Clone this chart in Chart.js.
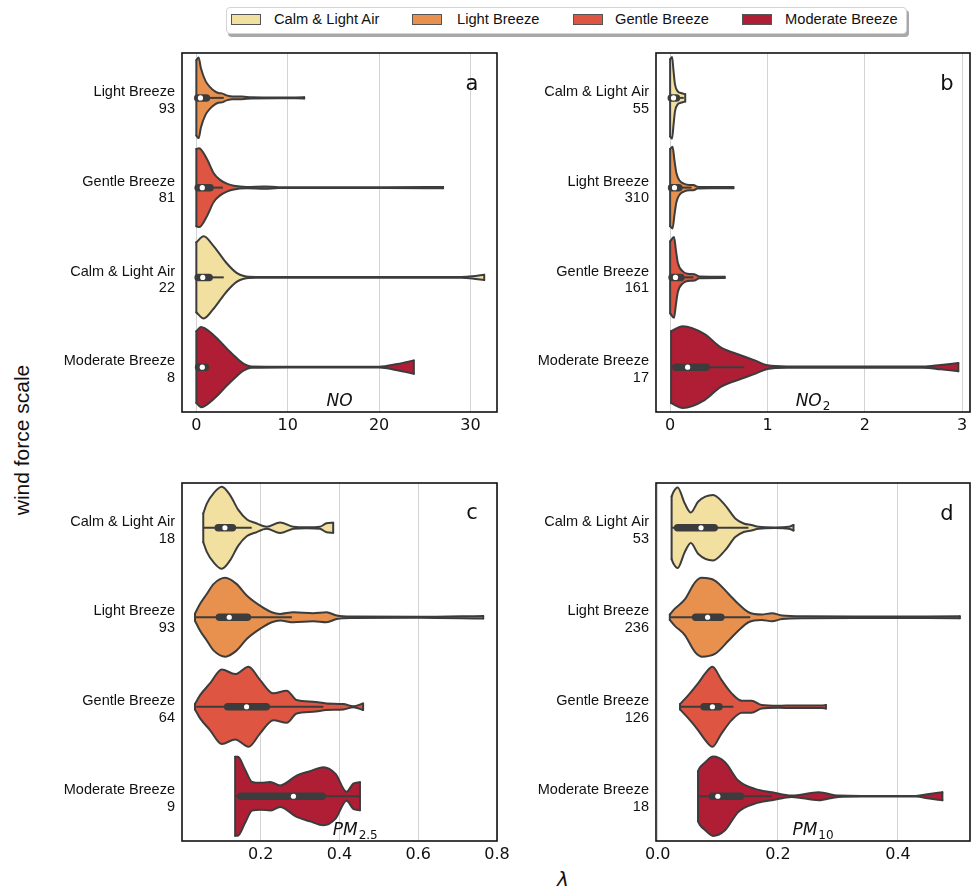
<!DOCTYPE html>
<html><head><meta charset="utf-8">
<script src="https://cdn.jsdelivr.net/npm/chart.js@4/dist/chart.umd.min.js"></script>
<style>
html,body{margin:0;padding:0;background:#fff;overflow:hidden;width:971px;height:891px}
#wrap{position:relative;width:971px;height:891px;overflow:hidden}
canvas{position:absolute}
#legend{position:absolute;left:226px;top:7px;width:679px;height:25px;border:1px solid #d4d4d4;border-radius:4px;box-shadow:2px 3px 0 #a8a8a8;background:#fff;font-family:"Liberation Sans",Arial,sans-serif;font-size:14.7px;color:#111}
#legend .p{position:absolute;top:6px;width:30px;height:11px;box-sizing:border-box;border:1px solid #555}
#legend .t{position:absolute;top:3px;line-height:17px;white-space:nowrap}
#ylab{position:absolute;left:22px;top:440px;transform:translate(-50%,-50%) rotate(-90deg);font-family:"Liberation Sans",Arial,sans-serif;font-size:21px;color:#111;white-space:nowrap}
#xlab{position:absolute;left:563px;top:879px;transform:translate(-50%,-50%);font-family:"DejaVu Sans",sans-serif;font-style:italic;font-size:20px;color:#111}
</style></head><body>
<div id="wrap">
<div id="legend"></div>
<div id="ylab">wind force scale</div>
<div id="xlab">λ</div>
<canvas id="ca" width="512" height="400" style="left:0px;top:43px"></canvas>
<canvas id="cb" width="520" height="400" style="left:474px;top:43px"></canvas>
<canvas id="cc" width="512" height="399" style="left:0px;top:473px"></canvas>
<canvas id="cd" width="520" height="399" style="left:474px;top:473px"></canvas>
</div>
<script>
// ---------- shared categories ----------
const classNames = ['Calm & Light Air', 'Light Breeze', 'Gentle Breeze', 'Moderate Breeze'];
const classColors = ['#f2e0a1', '#e8914f', '#de5541', '#b01e36'];

// ---------- panel a : NO ----------
const noOrder = [1, 2, 0, 3];
const noCounts = [93, 81, 22, 8];
const noTicks = [0, 10, 20, 30];
const noLight = [[0,0.42],[0.25,0.45],[0.5,0.33],[1.0,0.19],[1.5,0.12],[2.0,0.075],[2.4,0.055],[2.8,0.05],[3.3,0.028],[4.0,0.015],[5.0,0.016],[6.0,0.006],[9.0,0.004],[11.8,0.006]];
const noGentle = [[0,0.43],[0.3,0.44],[1.2,0.31],[1.9,0.16],[2.6,0.086],[3.4,0.041],[4.1,0.02],[5.5,0.008],[7.5,0.012],[9.0,0.005],[20,0.005],[27,0.006]];
const noCalm = [[0,0.39],[0.8,0.458],[1.8,0.36],[2.7,0.24],[3.3,0.16],[4.4,0.05],[5.2,0.015],[6.5,0.005],[29,0.005],[30.2,0.012],[31.5,0.03]];
const noModerate = [[0,0.40],[0.5,0.447],[1.9,0.355],[3.4,0.2],[4.5,0.093],[5.2,0.037],[6.0,0.008],[10,0.005],[20,0.005],[22,0.035],[23.8,0.075]];
const noQ1 = [0.15, 0.2, 0.2, 0.25];
const noMedian = [0.45, 0.65, 0.7, 0.65];
const noQ3 = [1.1, 1.5, 1.4, 1.0];
const noWhiskLo = [0, 0, 0, 0.1];
const noWhiskHi = [3.0, 2.9, 3.0, 1.1];

// ---------- panel b : NO2 ----------
const no2Order = [0, 1, 2, 3];
const no2Counts = [55, 310, 161, 17];
const no2Ticks = [0, 1, 2, 3];
const no2Calm = [[0,0.43],[0.02,0.455],[0.035,0.3],[0.05,0.15],[0.08,0.07],[0.11,0.055],[0.14,0.045],[0.155,0.04]];
const no2Light = [[0,0.43],[0.025,0.455],[0.045,0.3],[0.065,0.16],[0.1,0.075],[0.14,0.045],[0.2,0.03],[0.24,0.03],[0.28,0.01],[0.4,0.006],[0.65,0.008]];
const no2Gentle = [[0,0.4],[0.04,0.45],[0.06,0.3],[0.08,0.16],[0.13,0.067],[0.18,0.04],[0.25,0.035],[0.3,0.01],[0.56,0.008]];
const no2Moderate = [[0.01,0.4],[0.13,0.455],[0.35,0.37],[0.52,0.22],[0.73,0.13],[0.87,0.075],[1.0,0.02],[1.2,0.007],[2.6,0.007],[2.78,0.025],[2.96,0.045]];
const no2Q1 = [0.012, 0.015, 0.02, 0.06];
const no2Median = [0.035, 0.045, 0.055, 0.18];
const no2Q3 = [0.065, 0.09, 0.11, 0.37];
const no2WhiskLo = [0, 0, 0, 0.01];
const no2WhiskHi = [0.14, 0.22, 0.24, 0.76];

// ---------- panel c : PM2.5 ----------
const pm25Order = [0, 1, 2, 3];
const pm25Counts = [18, 93, 64, 9];
const pm25Ticks = [0.2, 0.4, 0.6, 0.8];
const pm25Calm = [[0.054,0.16],[0.063,0.27],[0.08,0.385],[0.101,0.458],[0.122,0.365],[0.143,0.2],[0.165,0.093],[0.185,0.056],[0.215,0.011],[0.249,0.06],[0.283,0.011],[0.317,0.005],[0.35,0.011],[0.367,0.05],[0.384,0.056]];
const pm25Light = [[0.033,0.04],[0.046,0.15],[0.063,0.26],[0.08,0.37],[0.11,0.44],[0.139,0.37],[0.165,0.24],[0.198,0.13],[0.228,0.056],[0.249,0.037],[0.283,0.056],[0.333,0.045],[0.367,0.056],[0.393,0.019],[0.43,0.007],[0.6,0.005],[0.765,0.015]];
const pm25Gentle = [[0.033,0.03],[0.046,0.13],[0.071,0.26],[0.101,0.417],[0.135,0.365],[0.169,0.447],[0.198,0.3],[0.232,0.15],[0.266,0.18],[0.291,0.075],[0.333,0.056],[0.367,0.037],[0.41,0.03],[0.435,0.005],[0.46,0.037]];
const pm25Moderate = [[0.135,0.44],[0.142,0.44],[0.16,0.3],[0.178,0.16],[0.2,0.15],[0.224,0.16],[0.249,0.12],[0.291,0.23],[0.325,0.28],[0.359,0.325],[0.39,0.25],[0.418,0.05],[0.435,0.14],[0.452,0.156]];
const pm25Q1 = [0.092, 0.095, 0.116, 0.15];
const pm25Median = [0.109, 0.12, 0.164, 0.283];
const pm25Q3 = [0.128, 0.166, 0.214, 0.356];
const pm25WhiskLo = [0.054, 0.033, 0.036, 0.135];
const pm25WhiskHi = [0.177, 0.279, 0.359, 0.452];

// ---------- panel d : PM10 ----------
const pm10Order = [0, 1, 2, 3];
const pm10Counts = [53, 236, 126, 18];
const pm10Ticks = [0.0, 0.2, 0.4];
const pm10Calm = [[0.023,0.35],[0.026,0.4],[0.033,0.45],[0.045,0.27],[0.055,0.17],[0.067,0.29],[0.092,0.365],[0.112,0.253],[0.129,0.104],[0.143,0.048],[0.156,0.03],[0.168,0.011],[0.195,0.004],[0.218,0.011],[0.226,0.03]];
const pm10Light = [[0.02,0.03],[0.028,0.093],[0.045,0.2],[0.062,0.39],[0.073,0.44],[0.095,0.41],[0.118,0.26],[0.134,0.15],[0.151,0.056],[0.173,0.03],[0.19,0.045],[0.207,0.019],[0.245,0.01],[0.35,0.008],[0.503,0.01]];
const pm10Gentle = [[0.037,0.03],[0.051,0.13],[0.067,0.26],[0.079,0.372],[0.091,0.447],[0.106,0.3],[0.123,0.15],[0.14,0.067],[0.156,0.067],[0.173,0.019],[0.2,0.011],[0.228,0.015],[0.273,0.015],[0.28,0.02]];
const pm10Moderate = [[0.067,0.28],[0.07,0.32],[0.079,0.38],[0.092,0.443],[0.112,0.38],[0.134,0.175],[0.162,0.082],[0.19,0.045],[0.223,0.007],[0.268,0.045],[0.301,0.007],[0.34,0.004],[0.43,0.004],[0.452,0.026],[0.474,0.045]];
const pm10Q1 = [0.033, 0.063, 0.077, 0.091];
const pm10Median = [0.072, 0.083, 0.091, 0.1];
const pm10Q3 = [0.094, 0.105, 0.102, 0.138];
const pm10WhiskLo = [0.023, 0.02, 0.037, 0.067];
const pm10WhiskHi = [0.151, 0.154, 0.126, 0.19];

// ---------- legend ----------
const legendPatchLeft = [4, 185, 346, 515];
const legendTextLeft = [47, 230, 388, 558];
const leg = document.getElementById('legend');
classNames.forEach((n, i) => {
  const p = document.createElement('div'); p.className = 'p';
  p.style.left = legendPatchLeft[i] + 'px'; p.style.background = classColors[i];
  const t = document.createElement('div'); t.className = 't';
  t.style.left = legendTextLeft[i] + 'px'; t.textContent = n;
  leg.appendChild(p); leg.appendChild(t);
});

// ---------- chart building ----------
Chart.defaults.font.family = '"DejaVu Sans", sans-serif';
const EDGE = '#3c3c3c';

const panelDeco = {
  id: 'panelDeco',
  afterDraw(chart, args, o) {
    const {ctx, chartArea: a} = chart;
    ctx.save();
    ctx.strokeStyle = '#111'; ctx.lineWidth = 1.6;
    ctx.strokeRect(a.left, a.top, a.right - a.left, a.bottom - a.top);
    ctx.fillStyle = '#111';
    ctx.textBaseline = 'alphabetic';
    ctx.textAlign = 'center';
    ctx.font = '21px "DejaVu Sans"';
    ctx.fillText(o.letter, a.right - o.letterDx, a.top + o.letterDy);
    ctx.textAlign = 'left';
    ctx.font = 'italic 17px "DejaVu Sans"';
    const w1 = ctx.measureText(o.varMain).width;
    ctx.font = '12px "DejaVu Sans"';
    const w2 = o.varSub ? ctx.measureText(o.varSub).width + 1 : 0;
    const x0 = a.left + (a.right - a.left) * o.varPos - (w1 + w2) / 2;
    const yb = a.bottom - 6;
    ctx.font = 'italic 17px "DejaVu Sans"';
    ctx.fillText(o.varMain, x0, yb);
    if (o.varSub) { ctx.font = '12px "DejaVu Sans"'; ctx.fillText(o.varSub, x0 + w1 + 1, yb + 4); }
    ctx.restore();
  }
};

function makePanel(id, p) {
  const ds = [];
  const medians = [];
  p.violins.forEach((prof, i) => {
    const c = i;
    const col = classColors[p.order[i]];
    const up = prof.map(([x, w]) => ({x: x, y: c - w}));
    const lo = prof.map(([x, w]) => ({x: x, y: c + w}));
    const base = {pointRadius: 0, pointHoverRadius: 0, borderColor: EDGE, borderWidth: 2, borderCapStyle: 'round', borderJoinStyle: 'round', order: 5};
    ds.push(Object.assign({}, base, {data: up, fill: false, cubicInterpolationMode: 'monotone'}));
    const ui = ds.length - 1;
    ds.push(Object.assign({}, base, {data: lo, fill: ui, backgroundColor: col, cubicInterpolationMode: 'monotone'}));
    const f = prof[0], l = prof[prof.length - 1];
    ds.push(Object.assign({}, base, {data: [{x: f[0], y: c - f[1]}, {x: f[0], y: c + f[1]}], fill: false}));
    ds.push(Object.assign({}, base, {data: [{x: l[0], y: c - l[1]}, {x: l[0], y: c + l[1]}], fill: false}));
    ds.push({data: [{x: p.wlo[i], y: c}, {x: p.whi[i], y: c}], borderColor: EDGE, borderWidth: 2, pointRadius: 0, fill: false, order: 2});
    ds.push({data: [{x: p.q1[i], y: c}, {x: p.q3[i], y: c}], borderColor: EDGE, borderWidth: 7.5, borderCapStyle: 'round', pointRadius: 0, fill: false, order: 1});
    medians.push({x: p.med[i], y: c});
  });
  ds.push({data: medians, showLine: false, pointRadius: 2.6, pointBackgroundColor: '#ffffff', pointBorderWidth: 0, pointBorderColor: '#ffffff', order: 0});

  return new Chart(document.getElementById(id), {
    type: 'line',
    data: {datasets: ds},
    plugins: [panelDeco],
    options: {
      responsive: false, animation: false, events: [],
      layout: {padding: {top: 10, right: p.padRight, left: 0, bottom: 0}},
      plugins: {
        legend: {display: false}, tooltip: {enabled: false},
        filler: {drawTime: 'beforeDatasetsDraw'},
        panelDeco: p.deco
      },
      scales: {
        x: {
          type: 'linear', min: p.xmin, max: p.xmax,
          afterBuildTicks: s => { s.ticks = p.ticks.map(v => ({value: v})); },
          afterFit: s => { s.height = 31; s.paddingLeft = 0; s.paddingRight = 0; },
          grid: {color: '#d3d3d3', lineWidth: 1, drawTicks: false, tickLength: 0},
          border: {display: false},
          ticks: {font: {size: 16, family: '"DejaVu Sans"'}, color: '#111', padding: 4, maxRotation: 0, autoSkip: false,
                  callback: v => p.fmt(v)}
        },
        y: {
          type: 'linear', min: -0.5, max: 3.5, reverse: true,
          afterBuildTicks: s => { s.ticks = [0, 1, 2, 3].map(v => ({value: v})); },
          afterFit: s => { s.width = 182; s.paddingTop = 0; s.paddingBottom = 0; },
          grid: {display: false, drawTicks: false, tickLength: 0},
          border: {display: false},
          ticks: {font: {size: 14.5, family: '"Liberation Sans", Arial', lineHeight: 1.15}, color: '#111', padding: 7, autoSkip: false, labelOffset: 2.5,
                  callback: v => { const k = Math.round(v); return [classNames[p.order[k]], String(p.counts[k])]; }}
        }
      }
    }
  });
}

makePanel('ca', {order: noOrder, counts: noCounts, ticks: noTicks, violins: [noLight, noGentle, noCalm, noModerate],
  q1: noQ1, med: noMedian, q3: noQ3, wlo: noWhiskLo, whi: noWhiskHi,
  xmin: -1.57, xmax: 32.9, padRight: 15, fmt: v => String(v),
  deco: {letter: 'a', letterDx: 25, letterDy: 37, varMain: 'NO', varSub: '', varPos: 0.5}});
makePanel('cb', {order: no2Order, counts: no2Counts, ticks: no2Ticks, violins: [no2Calm, no2Light, no2Gentle, no2Moderate],
  q1: no2Q1, med: no2Median, q3: no2Q3, wlo: no2WhiskLo, whi: no2WhiskHi,
  xmin: -0.145, xmax: 3.08, padRight: 24, fmt: v => String(v),
  deco: {letter: 'b', letterDx: 23, letterDy: 37, varMain: 'NO', varSub: '2', varPos: 0.5}});
makePanel('cc', {order: pm25Order, counts: pm25Counts, ticks: pm25Ticks, violins: [pm25Calm, pm25Light, pm25Gentle, pm25Moderate],
  q1: pm25Q1, med: pm25Median, q3: pm25Q3, wlo: pm25WhiskLo, whi: pm25WhiskHi,
  xmin: 0.0, xmax: 0.8, padRight: 15, fmt: v => v.toFixed(1),
  deco: {letter: 'c', letterDx: 25, letterDy: 36, varMain: 'PM', varSub: '2.5', varPos: 0.55}});
makePanel('cd', {order: pm10Order, counts: pm10Counts, ticks: pm10Ticks, violins: [pm10Calm, pm10Light, pm10Gentle, pm10Moderate],
  q1: pm10Q1, med: pm10Median, q3: pm10Q3, wlo: pm10WhiskLo, whi: pm10WhiskHi,
  xmin: -0.003, xmax: 0.52, padRight: 24, fmt: v => v.toFixed(1),
  deco: {letter: 'd', letterDx: 23, letterDy: 37, varMain: 'PM', varSub: '10', varPos: 0.5}});
</script>
</body></html>
